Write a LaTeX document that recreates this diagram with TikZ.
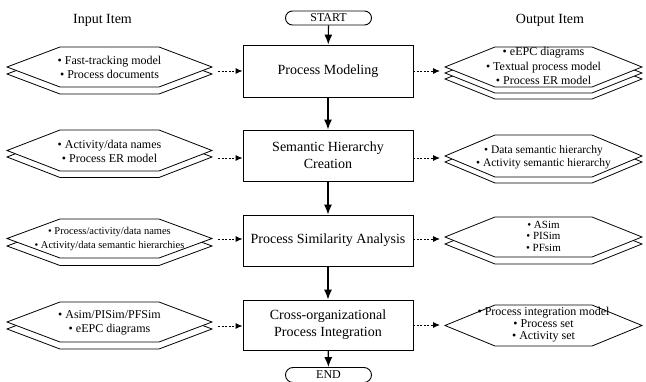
\documentclass[tikz,border=0pt]{standalone}
\usepackage{fontspec}
\setmainfont{Liberation Serif}
\usetikzlibrary{arrows.meta,shapes.misc,backgrounds}

% one hexagon outline: centre x, centre y, half width, half height, slant inset
\newcommand\hexlayer[5]{%
  \draw[hexline] ({#1-#3},{#2}) -- ({#1-#3+#5},{#2-#4}) -- ({#1+#3-#5},{#2-#4})
    -- ({#1+#3},{#2}) -- ({#1+#3-#5},{#2+#4}) -- ({#1-#3+#5},{#2+#4}) -- cycle;}

\begin{document}
\begin{tikzpicture}[x=1pt,y=-1pt,
  procbox/.style={draw,line width=0.9pt,minimum width=170pt,minimum height=51pt,
    align=center,inner sep=0pt,font=\fontsize{14}{17}\selectfont},
  terminal/.style={draw,line width=0.9pt,rounded rectangle,minimum width=86pt,
    minimum height=14pt,inner sep=0pt,font=\fontsize{12}{14}\selectfont},
  hexline/.style={draw,fill=white,line width=0.8pt},
  itemtext/.style={align=center,inner sep=0pt,font=\fontsize{12}{14}\selectfont},
  coltitle/.style={font=\fontsize{14}{16}\selectfont},
  flow/.style={line width=1.2pt,-{Latex[length=10pt,width=8pt]}},
  feed/.style={line width=0.9pt,dash pattern=on 2pt off 1.5pt,
    -{Latex[length=7pt,width=6pt]}}
]
\useasboundingbox (0,0) rectangle (646,382);

% column titles
\node[coltitle] (tin)  at (102.5,20) {Input Item};
\node[coltitle] (tout) at (550,20)   {Output Item};

% main process chain
\node[terminal] (start) at (328.5,18) {START};
\node[procbox,minimum height=52pt] (b1) at (328,71) {Process Modeling};
\node[procbox] (b2) at (328,155.5) {Semantic Hierarchy\\Creation};
\node[procbox] (b3) at (328,240.5) {Process Similarity Analysis};
\node[procbox,minimum height=50pt] (b4) at (328,325) {Cross-organizational\\Process Integration};
\node[terminal,minimum height=15pt] (end) at (328.5,375) {END};

\draw[flow] (start) -- (b1);
\draw[flow] (b1) -- (b2);
\draw[flow] (b2) -- (b3);
\draw[flow] (b3) -- (b4);
\draw[flow] (b4) -- (end);

% input item stacks
\hexlayer{109.5}{74}{102.5}{20}{53}
\hexlayer{109.5}{67}{102.5}{20}{53}
\node[itemtext] (in1) at (109.5,67) {\textbullet\ Fast-tracking model\\\textbullet\ Process documents};

\hexlayer{109.5}{157}{102.5}{20.5}{53}
\hexlayer{109.5}{150.5}{102.5}{20.5}{53}
\node[itemtext] (in2) at (109.5,151) {\textbullet\ Activity/data names\\\textbullet\ Process ER model};

\hexlayer{109.5}{246}{102.5}{19.5}{53}
\hexlayer{109.5}{238.5}{102.5}{19.5}{53}
\node[itemtext,font=\fontsize{10.5}{14}\selectfont] (in3) at (109.5,239)
  {\textbullet\ Process/activity/data names\\\textbullet\ Activity/data semantic hierarchies};

\hexlayer{109.5}{329}{102.5}{20}{53}
\hexlayer{109.5}{322}{102.5}{20}{53}
\node[itemtext] (in4) at (109.5,322.5) {\textbullet\ Asim/PISim/PFSim\\\textbullet\ eEPC diagrams};

% output item stacks
\hexlayer{543.5}{79}{98.5}{20}{50}
\hexlayer{543.5}{73}{98.5}{20}{50}
\hexlayer{543.5}{67}{98.5}{20}{50}
\node[itemtext,font=\fontsize{12}{14.5}\selectfont] (out1) at (543.5,66)
  {\textbullet\ eEPC diagrams\\\textbullet\ Textual process model\\\textbullet\ Process ER model};

\hexlayer{543.5}{162}{98.5}{21}{50}
\hexlayer{543.5}{156}{98.5}{21}{50}
\node[itemtext,font=\fontsize{11.5}{13}\selectfont] (out2) at (543.5,157)
  {\textbullet\ Data semantic hierarchy\\\textbullet\ Activity semantic hierarchy};

\hexlayer{543.5}{244}{98.5}{20}{50}
\hexlayer{543.5}{237}{98.5}{20}{50}
\node[itemtext,font=\fontsize{11}{11.5}\selectfont] (out3) at (543.5,236)
  {\textbullet\ ASim\\\textbullet\ PISim\\\textbullet\ PFsim};

\hexlayer{543.5}{325.5}{98.5}{20.5}{50}
\node[itemtext,font=\fontsize{12}{12}\selectfont] (out4) at (543.5,325)
  {\textbullet\ Process integration model\\\textbullet\ Process set\\\textbullet\ Activity set};

% tips of the stacks where the dotted feeds attach
\coordinate (in1tip)  at (212,71);
\coordinate (in2tip)  at (212,158);
\coordinate (in3tip)  at (212,239);
\coordinate (in4tip)  at (212,326);
\coordinate (out1tip) at (445,71);
\coordinate (out2tip) at (445,158);
\coordinate (out3tip) at (445,239);
\coordinate (out4tip) at (445,325);

\foreach \k in {1,2,3,4}{
  \draw[feed,shorten <=6pt] (in\k tip) -- (in\k tip -| b\k.west);
  \draw[feed,shorten >=5pt] (b\k.east |- out\k tip) -- (out\k tip);
}
\end{tikzpicture}
\end{document}
